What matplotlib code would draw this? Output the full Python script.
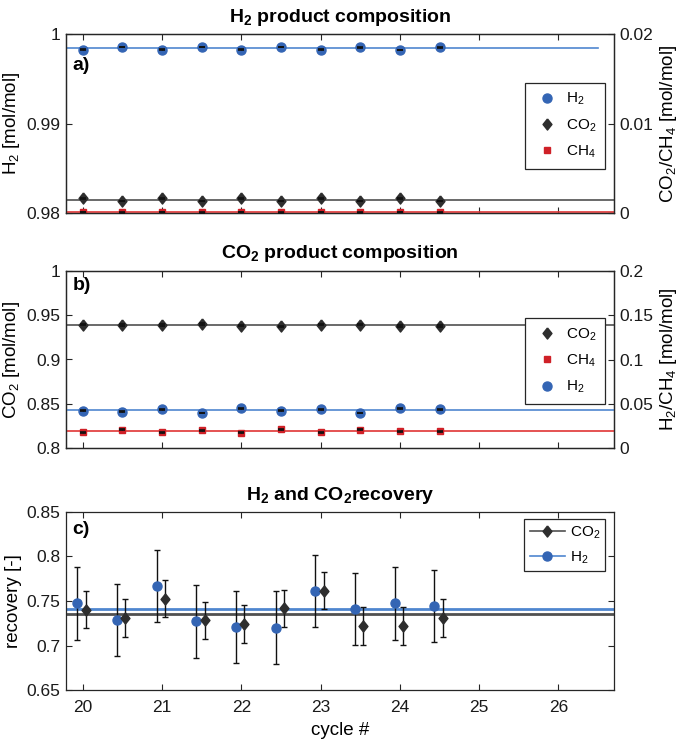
import numpy as np
import matplotlib
matplotlib.use('Agg')
import matplotlib.pyplot as plt
from matplotlib.lines import Line2D
from matplotlib.ticker import FuncFormatter

plt.rcParams['font.family'] = ['Liberation Sans', 'DejaVu Sans']
plt.rcParams['mathtext.fontset'] = 'custom'
plt.rcParams['mathtext.rm'] = 'Liberation Sans'
plt.rcParams['mathtext.it'] = 'Liberation Sans:italic'
plt.rcParams['mathtext.bf'] = 'Liberation Sans:bold'
plt.rcParams['mathtext.default'] = 'regular'

# ---------------- data ----------------
cycles = [20.0, 20.5, 21.0, 21.5, 22.0, 22.5, 23.0, 23.5, 24.0, 24.5]

# panel a: H2 product composition
a_h2 = [0.99826, 0.99855, 0.99826, 0.99852, 0.99826, 0.99852, 0.99826, 0.99850, 0.99823, 0.99850]
a_co2 = [0.00165, 0.00135, 0.00165, 0.00135, 0.00165, 0.00135, 0.00165, 0.00135, 0.00165, 0.00135]
a_ch4 = [0.00008, 0.00007, 0.00008, 0.00007, 0.00008, 0.00007, 0.00008, 0.00007, 0.00008, 0.00007]
a_h2_err = [0.00002] * 10
a_co2_err = [0.00003] * 10
a_ch4_err = [0.00002] * 10

# panel b: CO2 product composition
b_co2 = [0.9395, 0.9388, 0.9388, 0.9403, 0.9384, 0.9373, 0.9395, 0.9395, 0.9380, 0.9380]
b_h2 = [0.0422, 0.0410, 0.0437, 0.0396, 0.0448, 0.0422, 0.0437, 0.0396, 0.0448, 0.0437]
b_ch4 = [0.0180, 0.0206, 0.0180, 0.0198, 0.0172, 0.0213, 0.0176, 0.0209, 0.0187, 0.0187]
b_co2_err = [0.0008] * 10
b_h2_err = [0.0005] * 10
b_ch4_err = [0.0005] * 10

# panel c: recovery
c_h2 = [0.7472, 0.7285, 0.7670, 0.7270, 0.7210, 0.7202, 0.7617, 0.7408, 0.7472, 0.7445]
c_co2 = [0.7404, 0.7311, 0.7528, 0.7281, 0.7243, 0.7419, 0.7617, 0.7221, 0.7221, 0.7307]
c_h2_err = [0.0405] * 10
c_co2_err = [0.021] * 10
h2_offset = -0.065
co2_offset = 0.04

xticks = [20, 21, 22, 23, 24, 25, 26]
a_left_ticks = [0.98, 0.99, 1.0]
a_right_ticks = [0, 0.01, 0.02]
b_left_ticks = [0.8, 0.85, 0.9, 0.95, 1.0]
b_right_ticks = [0, 0.05, 0.1, 0.15, 0.2]
c_ticks = [0.65, 0.7, 0.75, 0.8, 0.85]

# ---------------- style ----------------
BLUE_M = '#3465b4'
BLUE_L = '#4f86cf'
RED_M = '#cf2027'
RED_L = '#e03535'
DARK_M = '#2e2e2e'
DARK_L = '#505050'
SPINE = '#262626'
ERR = '#111111'
DIAMOND = [(0, 1), (0.8, 0), (0, -1), (-0.8, 0), (0, 1)]
DMS = 8

XLIM = (19.79, 26.70)
TICK_FS = 12.5
LABEL_FS = 13.5
TITLE_FS = 14
LEG_FS = 11

fmt = FuncFormatter(lambda v, p: '%g' % round(v, 4))

fig = plt.figure(figsize=(6.85, 7.44), dpi=100)
L, W = 66 / 685, 548 / 685


def make_ax(top_px, bot_px):
    ax = fig.add_axes([L, 1 - bot_px / 744, W, (bot_px - top_px) / 744])
    for s in ax.spines.values():
        s.set_color(SPINE)
        s.set_linewidth(0.9)
    ax.set_xlim(*XLIM)
    ax.set_xticks(xticks)
    ax.tick_params(direction='in', length=4.5, width=0.8, colors=SPINE,
                   labelsize=TICK_FS, top=True, pad=4, labelcolor='#1a1a1a')
    ax.tick_params(axis='x', pad=7)
    return ax


def style_twin(tw):
    for s in tw.spines.values():
        s.set_color(SPINE)
        s.set_linewidth(0.9)
    tw.tick_params(direction='in', length=4.5, width=0.8, colors=SPINE,
                   labelsize=TICK_FS, pad=4, labelcolor='#1a1a1a')


x = np.array(cycles)

# ---------------- panel a ----------------
axa = make_ax(34, 213)
axa.set_ylim(0.98, 1.0)
axa.set_yticks(a_left_ticks)
axa.yaxis.set_major_formatter(fmt)
axa.tick_params(labelbottom=False)
axa.axhline(np.mean(a_h2), xmin=0, xmax=(26.5 - XLIM[0]) / (XLIM[1] - XLIM[0]),
            color=BLUE_L, lw=1.2, zorder=1)
axa.plot(x, a_h2, 'o', color=BLUE_M, ms=6.5, mec=BLUE_M, zorder=2)
axa.errorbar(x, a_h2, yerr=a_h2_err, fmt='none', ecolor=ERR, capsize=2.5,
             elinewidth=1, capthick=1.2, zorder=3)
axa.set_ylabel('H$_2$ [mol/mol]', fontsize=LABEL_FS, labelpad=3)
axa.set_title('H$_2$ product composition', fontsize=TITLE_FS, fontweight='bold', pad=9)
axa.text(0.012, 0.822, 'a)', transform=axa.transAxes, fontsize=14,
         fontweight='bold', va='center', ha='left')

twa = axa.twinx()
style_twin(twa)
twa.set_ylim(0, 0.02)
twa.set_yticks(a_right_ticks)
twa.yaxis.set_major_formatter(fmt)
twa.axhline(np.mean(a_co2), color=DARK_L, lw=1.2, zorder=1)
twa.axhline(np.mean(a_ch4), color=RED_L, lw=1.2, zorder=1)
twa.plot(x, a_co2, marker=DIAMOND, ls='none', color=DARK_M, ms=DMS, zorder=2)
twa.plot(x, a_ch4, 's', color=RED_M, ms=5, zorder=2)
twa.errorbar(x, a_co2, yerr=a_co2_err, fmt='none', ecolor=ERR, capsize=2.5,
             elinewidth=1, capthick=1.2, zorder=3)
twa.errorbar(x, a_ch4, yerr=a_ch4_err, fmt='none', ecolor=ERR, capsize=2.5,
             elinewidth=1, capthick=1.2, zorder=3)
twa.set_ylabel('CO$_2$/CH$_4$ [mol/mol]', fontsize=LABEL_FS, labelpad=3)

hA = [Line2D([], [], ls='none', marker='o', color=BLUE_M, ms=6.5),
      Line2D([], [], ls='none', marker=DIAMOND, color=DARK_M, ms=DMS),
      Line2D([], [], ls='none', marker='s', color=RED_M, ms=5)]
lga = twa.legend(hA, ['H$_2$', 'CO$_2$', 'CH$_4$'], loc='upper right',
                 bbox_to_anchor=(0.984, 0.728), fontsize=LEG_FS, fancybox=False,
                 edgecolor=SPINE, framealpha=1, borderpad=0.55, handlelength=1.7,
                 handletextpad=0.45, labelspacing=0.65, borderaxespad=0)
lga.get_frame().set_linewidth(0.9)

# ---------------- panel b ----------------
axb = make_ax(271, 448)
axb.set_ylim(0.8, 1.0)
axb.set_yticks(b_left_ticks)
axb.yaxis.set_major_formatter(fmt)
axb.tick_params(labelbottom=False)
axb.axhline(np.mean(b_co2), color=DARK_L, lw=1.2, zorder=1)
axb.plot(x, b_co2, marker=DIAMOND, ls='none', color=DARK_M, ms=DMS, zorder=2)
axb.errorbar(x, b_co2, yerr=b_co2_err, fmt='none', ecolor=ERR, capsize=2.5,
             elinewidth=1, capthick=1.2, zorder=3)
axb.set_ylabel('CO$_2$ [mol/mol]', fontsize=LABEL_FS, labelpad=3)
axb.set_title('CO$_2$ product composition', fontsize=TITLE_FS, fontweight='bold', pad=9)
axb.text(0.012, 0.92, 'b)', transform=axb.transAxes, fontsize=14,
         fontweight='bold', va='center', ha='left')

twb = axb.twinx()
style_twin(twb)
twb.set_ylim(0, 0.2)
twb.set_yticks(b_right_ticks)
twb.yaxis.set_major_formatter(fmt)
twb.axhline(np.mean(b_h2), color=BLUE_L, lw=1.2, zorder=1)
twb.axhline(np.mean(b_ch4), color=RED_L, lw=1.2, zorder=1)
twb.plot(x, b_h2, 'o', color=BLUE_M, ms=6.5, zorder=2)
twb.plot(x, b_ch4, 's', color=RED_M, ms=5, zorder=2)
twb.errorbar(x, b_h2, yerr=b_h2_err, fmt='none', ecolor=ERR, capsize=2.5,
             elinewidth=1, capthick=1.2, zorder=3)
twb.errorbar(x, b_ch4, yerr=b_ch4_err, fmt='none', ecolor=ERR, capsize=2.5,
             elinewidth=1, capthick=1.2, zorder=3)
twb.set_ylabel('H$_2$/CH$_4$ [mol/mol]', fontsize=LABEL_FS, labelpad=3)

hB = [Line2D([], [], ls='none', marker=DIAMOND, color=DARK_M, ms=DMS),
      Line2D([], [], ls='none', marker='s', color=RED_M, ms=5),
      Line2D([], [], ls='none', marker='o', color=BLUE_M, ms=6.5)]
lgb = twb.legend(hB, ['CO$_2$', 'CH$_4$', 'H$_2$'], loc='upper right',
                 bbox_to_anchor=(0.984, 0.735), fontsize=LEG_FS, fancybox=False,
                 edgecolor=SPINE, framealpha=1, borderpad=0.55, handlelength=1.7,
                 handletextpad=0.45, labelspacing=0.65, borderaxespad=0)
lgb.get_frame().set_linewidth(0.9)

# ---------------- panel c ----------------
axc = make_ax(512, 690)
axc.set_ylim(0.65, 0.85)
axc.set_yticks(c_ticks)
axc.yaxis.set_major_formatter(fmt)
axc.tick_params(right=True)
axc.axhline(np.mean(c_h2), color=BLUE_L, lw=2, zorder=1)
axc.axhline(np.mean(c_co2), color=DARK_L, lw=2, zorder=1)
axc.errorbar(x + h2_offset, c_h2, yerr=c_h2_err, fmt='none', ecolor=ERR,
             capsize=2.5, elinewidth=1, capthick=1, zorder=2)
axc.errorbar(x + co2_offset, c_co2, yerr=c_co2_err, fmt='none', ecolor=ERR,
             capsize=2.5, elinewidth=1, capthick=1, zorder=2)
axc.plot(x + h2_offset, c_h2, 'o', color=BLUE_M, ms=6.5, zorder=3)
axc.plot(x + co2_offset, c_co2, marker=DIAMOND, ls='none', color=DARK_M, ms=DMS, zorder=3)
axc.set_ylabel('recovery [-]', fontsize=LABEL_FS, labelpad=3)
axc.set_xlabel('cycle #', fontsize=LABEL_FS, labelpad=5)
axc.set_title('H$_2$ and CO$_2$recovery', fontsize=TITLE_FS, fontweight='bold', pad=9)
axc.text(0.012, 0.90, 'c)', transform=axc.transAxes, fontsize=14,
         fontweight='bold', va='center', ha='left')

hC = [Line2D([], [], color=DARK_L, lw=1.2, marker=DIAMOND, mfc=DARK_M, mec=DARK_M, ms=DMS),
      Line2D([], [], color=BLUE_L, lw=1.2, marker='o', mfc=BLUE_M, mec=BLUE_M, ms=6.5)]
lgc = axc.legend(hC, ['CO$_2$', 'H$_2$'], loc='upper right',
                 bbox_to_anchor=(0.984, 0.96), fontsize=LEG_FS, fancybox=False,
                 edgecolor=SPINE, framealpha=1, borderpad=0.35, handlelength=2.3,
                 handletextpad=0.3, labelspacing=0.55, borderaxespad=0)
lgc.get_frame().set_linewidth(0.9)

fig.savefig('out.png', dpi=100)
